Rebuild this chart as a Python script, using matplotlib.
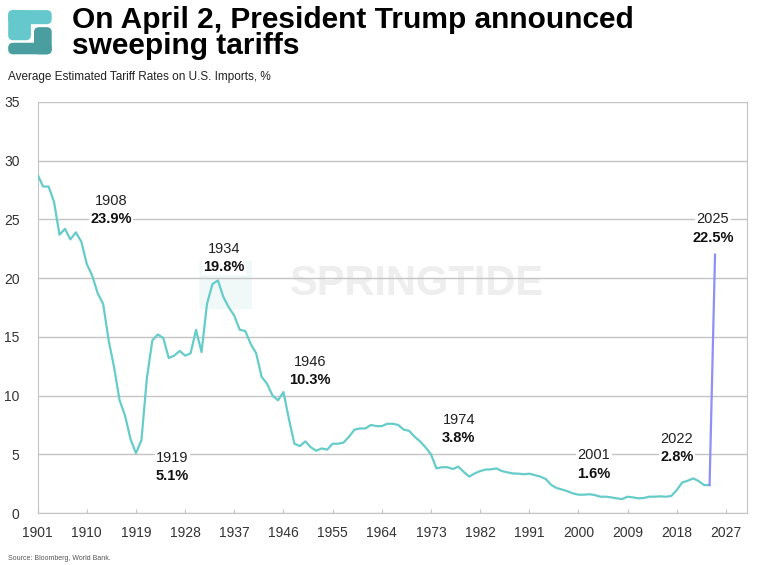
import numpy as np
import matplotlib
matplotlib.use('Agg')
import matplotlib.pyplot as plt
from matplotlib.patches import FancyBboxPatch

# Tasas arancelarias medias estimadas (%), lectura del gráfico
anios = list(range(1901, 2025))
tasas = [
    28.8, 27.8, 27.8, 26.5, 23.7, 24.2, 23.3, 23.9, 23.1, 21.2,   # 1901-1910
    20.2, 18.7, 17.8, 14.7, 12.4, 9.6, 8.3, 6.3, 5.1, 6.2,        # 1911-1920
    11.5, 14.7, 15.2, 14.9, 13.2, 13.4, 13.8, 13.4, 13.6, 15.6,   # 1921-1930
    13.7, 17.8, 19.5, 19.8, 18.4, 17.5, 16.8, 15.6, 15.5, 14.4,   # 1931-1940
    13.6, 11.6, 11.0, 10.0, 9.6, 10.3, 8.0, 5.9, 5.7, 6.1,        # 1941-1950
    5.6, 5.3, 5.5, 5.4, 5.9, 5.9, 6.0, 6.5, 7.1, 7.2,             # 1951-1960
    7.2, 7.5, 7.4, 7.4, 7.6, 7.6, 7.5, 7.1, 7.0, 6.5,             # 1961-1970
    6.1, 5.6, 5.0, 3.8, 3.9, 3.9, 3.75, 3.95, 3.5, 3.1,           # 1971-1980
    3.37, 3.57, 3.7, 3.72, 3.8, 3.57, 3.46, 3.37, 3.35, 3.3,      # 1981-1990
    3.35, 3.23, 3.1, 2.9, 2.4, 2.13, 2.0, 1.85, 1.67, 1.56,       # 1991-2000
    1.56, 1.6, 1.53, 1.39, 1.39, 1.33, 1.25, 1.19, 1.39, 1.33,    # 2001-2010
    1.25, 1.28, 1.39, 1.39, 1.42, 1.39, 1.45, 1.96, 2.6, 2.75,    # 2011-2020
    2.95, 2.72, 2.38, 2.38,                                       # 2021-2024
]
anios_2025 = [2024, 2025]
tasas_2025 = [2.38, 22.0]

# Rótulos destacados
rot_anios = ['1908', '1919', '1934', '1946', '1974', '2001', '2022', '2025']
rot_pct = ['23.9%', '5.1%', '19.8%', '10.3%', '3.8%', '1.6%', '2.8%', '22.5%']
rot_x = [1914.4, 1925.7, 1935.1, 1950.8, 1978.1, 2002.8, 2018.0, 2024.6]
rot_y = [26.6, 4.7, 22.5, 12.9, 7.9, 4.9, 6.3, 25.0]

xticks = list(range(1901, 2028, 9))

fonte = ['Liberation Sans', 'DejaVu Sans']

fig = plt.figure(figsize=(7.68, 5.65), dpi=100)
ax = fig.add_axes([0.049, 0.092, 0.924, 0.7275])

cinza = '#c4c4c4'
ax.set_xlim(1901, 2030.9)
ax.set_ylim(0, 35)
ax.set_yticks(range(0, 36, 5))
ax.set_xticks(xticks)
ax.grid(axis='y', color=cinza, linewidth=1)
ax.set_axisbelow(True)
for lado in ['left', 'right', 'bottom']:
    ax.spines[lado].set_color(cinza)
ax.spines['top'].set_visible(False)
ax.tick_params(axis='y', length=0, pad=13, labelcolor='#333333')
ax.tick_params(axis='x', direction='in', length=3, color=cinza, pad=9, labelcolor='#333333')
for lbl in ax.get_xticklabels() + ax.get_yticklabels():
    lbl.set_family(fonte)
    lbl.set_fontsize(10)

# Marca d'água
ax.text(0.535, 0.556, 'SPRINGTIDE', transform=ax.transAxes, ha='center', va='center',
        fontsize=30, fontweight='bold', color='#eeeeee', family=fonte, zorder=0)
ax.add_patch(FancyBboxPatch((0.232, 0.50), 0.066, 0.11, transform=ax.transAxes,
                            boxstyle='round,pad=0.004', facecolor='#f0f8f8',
                            edgecolor='none', zorder=0))

ax.plot(anios, tasas, color='#66ccc9', linewidth=1.6, zorder=3)
ax.plot(anios_2025, tasas_2025, color='#8f8ff5', linewidth=1.6, zorder=3)

for a, p, x, y in zip(rot_anios, rot_pct, rot_x, rot_y):
    ax.text(x, y, a, ha='center', va='center', fontsize=10.5, family=fonte,
            color='#222222', zorder=4,
            bbox=dict(facecolor='white', edgecolor='none', pad=1))
    ax.text(x, y - 1.55, p, ha='center', va='center', fontsize=10.5, family=fonte,
            fontweight='bold', color='#111111', zorder=4,
            bbox=dict(facecolor='white', edgecolor='none', pad=1))

# Título e subtítulo
fig.text(0.094, 0.990, 'On April 2, President Trump announced\nsweeping tariffs',
         ha='left', va='top', fontsize=21.5, fontweight='bold', family=fonte,
         color='black', linespacing=0.92)
fig.text(0.010, 0.864, 'Average Estimated Tariff Rates on U.S. Imports, %',
         ha='left', va='center', fontsize=8.5, family=fonte, color='#222222')
fig.text(0.010, 0.006, 'Source: Bloomberg, World Bank.', ha='left', va='bottom',
         fontsize=5, family=fonte, color='#555555')

# Logo
lax = fig.add_axes([0.010, 0.903, 0.058, 0.08])
lax.set_xlim(0, 44)
lax.set_ylim(45, 0)
lax.axis('off')
claro = '#64c8cd'
escuro = '#4a9ea0'
lax.add_patch(FancyBboxPatch((0.5, 0.5), 43, 14, boxstyle='round,pad=0,rounding_size=5',
                             facecolor=claro, edgecolor='none'))
lax.add_patch(FancyBboxPatch((0.5, 0.5), 22.5, 30, boxstyle='round,pad=0,rounding_size=5',
                             facecolor=claro, edgecolor='none'))
lax.add_patch(FancyBboxPatch((26, 17.5), 17.5, 27, boxstyle='round,pad=0,rounding_size=5',
                             facecolor=escuro, edgecolor='none'))
lax.add_patch(FancyBboxPatch((0.5, 33), 43, 11.5, boxstyle='round,pad=0,rounding_size=5',
                             facecolor=escuro, edgecolor='none'))

fig.savefig('out.png', dpi=100)
